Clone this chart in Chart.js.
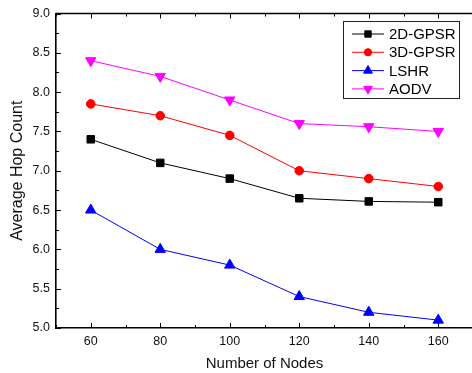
<!DOCTYPE html>
<html>
<head>
<meta charset="utf-8">
<script src="https://cdn.jsdelivr.net/npm/chart.js@4/dist/chart.umd.min.js"></script>
<style>
    html, body { margin: 0; padding: 0; background: #fff; overflow: hidden; }
    #wrap { width: 480px; height: 373px; }
</style>
</head>
<body>
<div id="wrap"><canvas id="hopChart" width="480" height="373"></canvas></div>
<script>
const nodeCounts = [60, 80, 100, 120, 140, 160];
const gpsr2d = [7.4, 7.1, 6.9, 6.65, 6.61, 6.6];
const gpsr3d = [7.85, 7.7, 7.45, 7.0, 6.9, 6.8];
const lshr = [6.5, 6.0, 5.8, 5.4, 5.2, 5.1];
const aodv = [8.4, 8.2, 7.9, 7.6, 7.56, 7.5];
const seriesNames = ['2D-GPSR', '3D-GPSR', 'LSHR', 'AODV'];
const xTickLabels = [60, 80, 100, 120, 140, 160];
const yTickLabels = [5.0, 5.5, 6.0, 6.5, 7.0, 7.5, 8.0, 8.5, 9.0];

const FONT = '"Liberation Sans", Arial, Helvetica, sans-serif';

function toPoints(values) {
    return nodeCounts.map((x, i) => ({ x, y: values[i] }));
}

function makeSeries(label, values, color, style, rotation, radius) {
    return {
        label,
        data: toPoints(values),
        borderColor: color,
        backgroundColor: color,
        pointBackgroundColor: color,
        pointBorderColor: color,
        pointStyle: style,
        rotation: rotation,
        pointRadius: radius,
        pointBorderWidth: 1,
        borderWidth: 1,
        tension: 0,
        fill: false,
    };
}

// inward tick marks, top border and boxed legend
const frameAndLegend = {
    id: 'frameAndLegend',
    afterDraw(chart) {
        const { ctx, chartArea: a, scales } = chart;
        const xs = scales.x, ys = scales.y;
        ctx.save();
        ctx.strokeStyle = '#000';
        ctx.lineWidth = 1;

        for (let v = 50; v <= 170; v += 10) {
            const px = Math.round(xs.getPixelForValue(v)) + 0.5;
            const len = (v % 20 === 0) ? 5 : 3;
            ctx.beginPath();
            ctx.moveTo(px, a.bottom);
            ctx.lineTo(px, a.bottom - len);
            ctx.moveTo(px, a.top);
            ctx.lineTo(px, a.top + len);
            ctx.stroke();
        }
        for (let v = 5.0; v <= 9.0001; v += 0.25) {
            const py = Math.round(ys.getPixelForValue(v)) + 0.5;
            const len = (Math.abs(v * 2 - Math.round(v * 2)) < 1e-6) ? 5 : 3;
            ctx.beginPath();
            ctx.moveTo(a.left, py);
            ctx.lineTo(a.left + len, py);
            ctx.stroke();
        }

        ctx.lineWidth = 1.6;
        ctx.beginPath();
        ctx.moveTo(a.left, a.top);
        ctx.lineTo(a.right, a.top);
        ctx.stroke();

        // legend
        const box = { x: 343.5, y: 21.5, w: 116, h: 77 };
        ctx.lineWidth = 1;
        ctx.strokeStyle = '#222';
        ctx.strokeRect(box.x, box.y, box.w, box.h);
        ctx.font = '15px ' + FONT;
        ctx.textBaseline = 'middle';
        ctx.textAlign = 'left';
        chart.data.datasets.forEach((ds, i) => {
            const cy = 34 + i * 18.3;
            ctx.strokeStyle = ds.borderColor;
            ctx.lineWidth = 1;
            ctx.beginPath();
            ctx.moveTo(352, cy);
            ctx.lineTo(384, cy);
            ctx.stroke();
            ctx.fillStyle = ds.borderColor;
            Chart.helpers.drawPoint(ctx, {
                pointStyle: ds.pointStyle,
                rotation: ds.rotation,
                radius: ds.pointRadius * 0.85,
                borderWidth: 1,
            }, 368, cy);
            ctx.fillStyle = '#000';
            ctx.fillText(ds.label, 389, cy + 1);
        });
        ctx.restore();
    }
};

new Chart(document.getElementById('hopChart'), {
    type: 'line',
    data: {
        datasets: [
            makeSeries(seriesNames[0], gpsr2d, '#000000', 'rect', 0, 5.3),
            makeSeries(seriesNames[1], gpsr3d, '#ff0000', 'circle', 0, 4.3),
            makeSeries(seriesNames[2], lshr, '#0000ff', 'triangle', 0, 6),
            makeSeries(seriesNames[3], aodv, '#ff00ff', 'triangle', 180, 6),
        ],
    },
    options: {
        responsive: false,
        animation: false,
        layout: { padding: { top: 10, right: 0, bottom: 0, left: 0 } },
        plugins: {
            legend: { display: false },
            tooltip: { enabled: false },
        },
        scales: {
            x: {
                type: 'linear',
                min: 50,
                max: 170,
                afterBuildTicks(scale) {
                    scale.ticks = xTickLabels.map(v => ({ value: v }));
                },
                afterFit(scale) {
                    scale.height = 45;
                },
                ticks: {
                    color: '#111',
                    padding: 6,
                    font: { family: FONT, size: 12.5 },
                },
                grid: { display: false, drawTicks: false },
                border: { display: true, color: '#000', width: 1.6 },
                title: {
                    display: true,
                    text: 'Number of Nodes',
                    color: '#111',
                    font: { family: FONT, size: 15 },
                    padding: { top: 5, bottom: 0 },
                },
            },
            y: {
                type: 'linear',
                min: 5,
                max: 9,
                afterBuildTicks(scale) {
                    scale.ticks = yTickLabels.map(v => ({ value: v }));
                },
                afterFit(scale) {
                    scale.width = 56;
                },
                ticks: {
                    color: '#111',
                    padding: 6,
                    font: { family: FONT, size: 12.5 },
                    callback: v => Number(v).toFixed(1),
                },
                grid: { display: false, drawTicks: false },
                border: { display: true, color: '#000', width: 1.6 },
                title: {
                    display: true,
                    text: 'Average Hop Count',
                    color: '#111',
                    font: { family: FONT, size: 16 },
                    padding: { top: 8, bottom: 0 },
                },
            },
        },
    },
    plugins: [frameAndLegend],
});
</script>
</body>
</html>
